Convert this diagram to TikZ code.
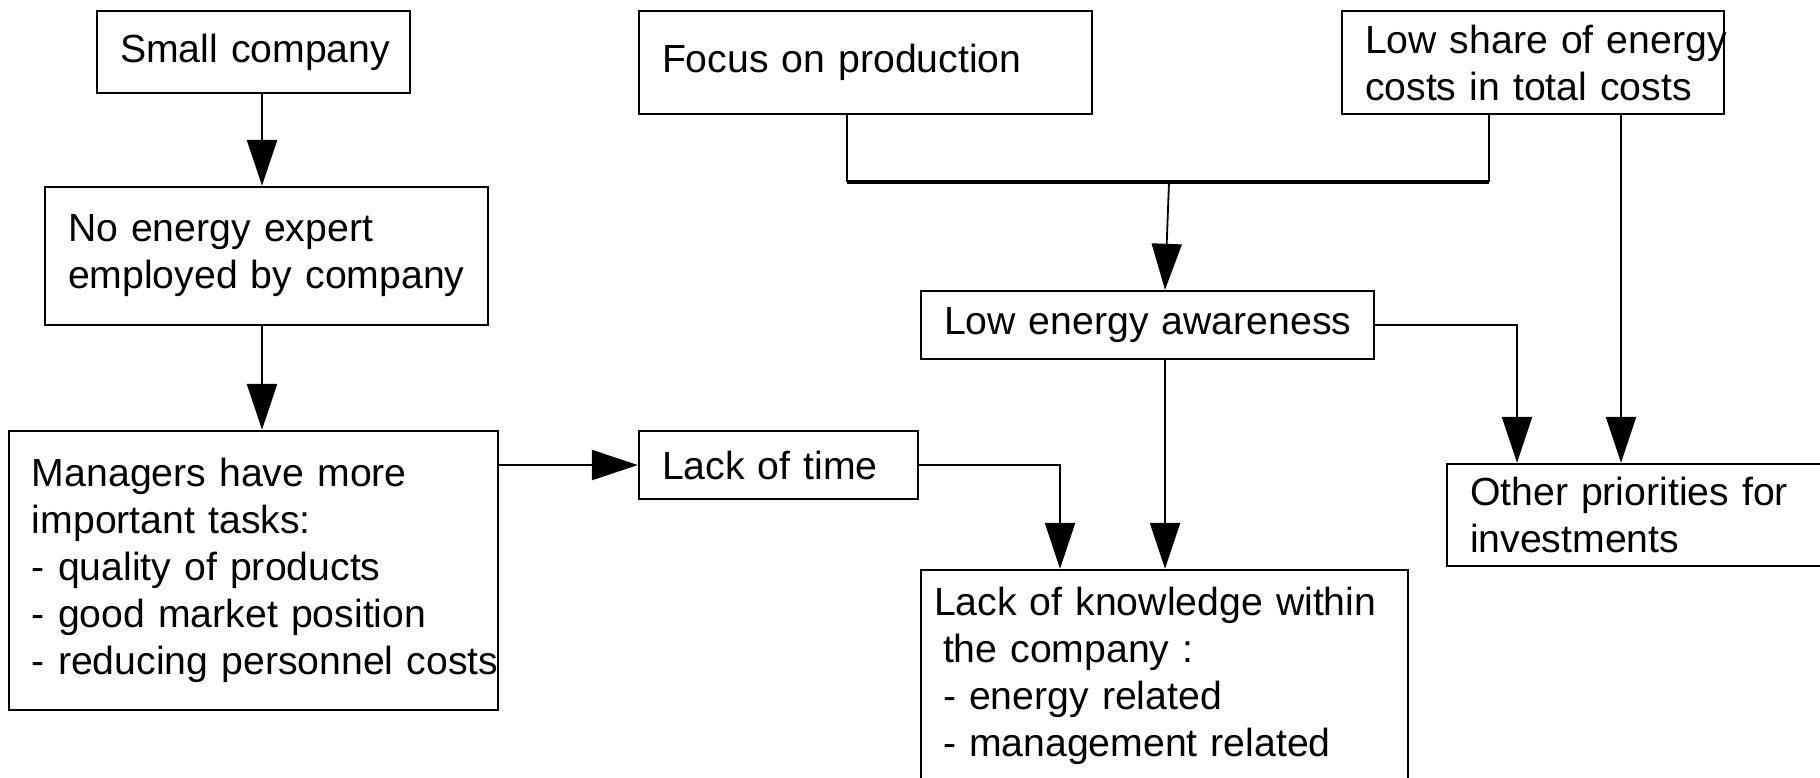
\documentclass[tikz,border=0pt]{standalone}
\usepackage{fontspec}
\setmainfont{Liberation Sans}
\usetikzlibrary{arrows.meta}

\begin{document}
\begin{tikzpicture}[x=0.5pt,y=-0.5pt,>={Triangle[length=23pt,width=15pt]},line width=1.2pt,
  box/.style={draw,rectangle,inner xsep=11.5pt,inner ysep=0pt,align=left,
    font=\fontsize{19.6}{23.5}\selectfont}]
\useasboundingbox (0,0) rectangle (1820,777);
\node[box,minimum width=156.5pt,minimum height=41pt,text width=133.5pt](small) at (253.5,52) {\mbox{Small company}};
\node[box,minimum width=221.5pt,minimum height=69pt,text width=198.5pt](expert) at (266.5,256) {No energy expert\\\mbox{employed by company}};
\node[box,minimum width=244.5pt,minimum height=139.5pt,text width=221.5pt](managers) at (253.5,570.5) {Managers have more\\important tasks:\\- quality of products\\- good market position\\\mbox{- reducing personnel costs}};
\node[box,minimum width=226.5pt,minimum height=51.5pt,text width=203.5pt](focus) at (865.5,62.5) {Focus on production};
\node[box,minimum width=191pt,minimum height=51.5pt,text width=168pt](share) at (1533,62.5) {\mbox{Low share of energy}\\costs in total costs};
\node[box,minimum width=226.5pt,minimum height=34pt,text width=203.5pt](aware) at (1147.5,325) {\mbox{Low energy awareness}};
\node[box,minimum width=139.5pt,minimum height=34pt,text width=116.5pt](time) at (778.5,465) {\mbox{Lack of time}};
\node[box,inner xsep=6.5pt,minimum width=243.5pt,minimum height=106pt,text width=230.5pt](know) at (1164.5,676) {Lack of knowledge within\\\hspace*{4.5pt}the company :\\\hspace*{4.5pt}- energy related\\\hspace*{4.5pt}- management related};
\node[box,minimum width=226.5pt,minimum height=51pt,text width=203.5pt](other) at (1673.5,515) {Other priorities for\\investments};

\coordinate (bar) at (1169,182);

\draw[->] ([xshift=4.25pt]small.south) -- ([xshift=4.25pt]small.south |- expert.north);
\draw[->] ([xshift=-2.25pt]expert.south) -- ([xshift=-2.25pt]expert.south |- managers.north);
\draw[->] (managers.east |- time.west) -- (time.west);

\draw ([xshift=-9.25pt]focus.south) -- ([xshift=-9.25pt]focus.south |- bar);
\draw ([xshift=-22pt]share.south) -- ([xshift=-22pt]share.south |- bar);
\draw[line width=2.2pt] ([xshift=-9.25pt]focus.south |- bar) -- ([xshift=-22pt]share.south |- bar);
\draw[->,line width=0.9pt] (bar) -- ([xshift=8.75pt]aware.north);

\draw[->] ([xshift=44pt]share.south) -- ([xshift=44pt]share.south |- other.north);
\draw[->] (aware.east) -| ([xshift=-78.25pt]other.north);
\draw[->] ([xshift=8.75pt]aware.south) -- ([xshift=8.75pt]aware.south |- know.north);
\draw[->] (time.east) -| ([xshift=-52.25pt]know.north);
\end{tikzpicture}
\end{document}
